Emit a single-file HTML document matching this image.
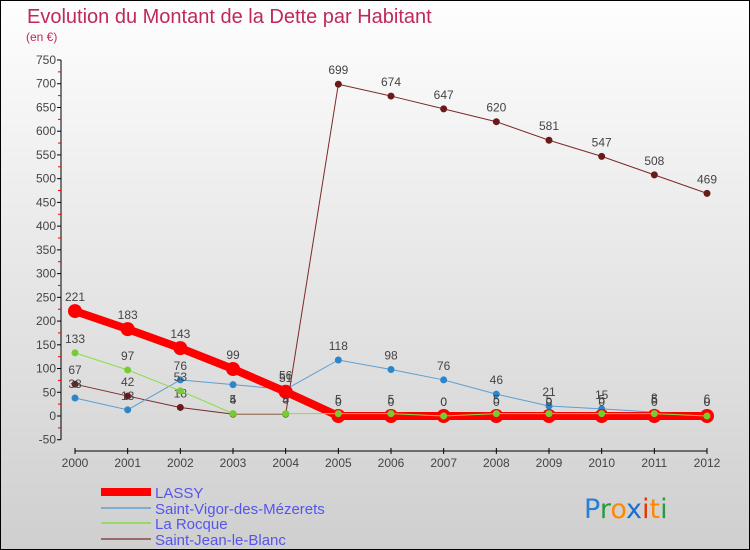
<!DOCTYPE html>
<html><head><meta charset="utf-8"><style>
body{margin:0}
#wrap{width:750px;height:550px;position:relative;box-sizing:border-box;border:1px solid #000;background:linear-gradient(#fefefe,#cfcfcf);font-family:"Liberation Sans",sans-serif;overflow:hidden}
</style></head><body>
<div id="wrap">
<svg id="c" width="748" height="548" style="position:absolute;left:0;top:0"></svg>
</div>
<script>
const years=[2000,2001,2002,2003,2004,2005,2006,2007,2008,2009,2010,2011,2012];
const lassy=[221,183,143,99,51,0,0,0,0,0,0,0,0];
const vigor=[38,13,76,66,56,118,98,76,46,21,15,8,6];
const rocque=[133,97,53,5,5,5,5,0,5,5,5,5,0];
const jean=[67,42,18,4,4,699,674,647,620,581,547,508,469];
const yTicks=[-50,0,50,100,150,200,250,300,350,400,450,500,550,600,650,700,750];
const seriesNames=["LASSY","Saint-Vigor-des-Mézerets","La Rocque","Saint-Jean-le-Blanc"];
const NS="http://www.w3.org/2000/svg",svg=document.getElementById('c');
const X=i=>74+i*(632/12), Y=v=>415-v*(356/750);
function mk(t,a,p){const e=document.createElementNS(NS,t);for(const k in a)e.setAttribute(k,a[k]);(p||svg).appendChild(e);return e;}
let t=mk('text',{x:26,y:22,'font-size':20,fill:'#c0285a'});t.textContent="Evolution du Montant de la Dette par Habitant";

t=mk('text',{x:25,y:40,'font-size':12,fill:'#c0285a'});t.textContent="(en €)";

// y axis
let ax=mk('line',{x1:60,y1:Y(750),x2:60,y2:Y(-50),stroke:'#000'});

yTicks.forEach(v=>{mk('line',{x1:56,x2:60,y1:Y(v),y2:Y(v),stroke:'#000'});
 if(v<750)mk('line',{x1:57,x2:60,y1:Y(v+25),y2:Y(v+25),stroke:'#e00'});
 const l=mk('text',{x:55,y:Y(v)+4,'font-size':12,fill:'#444','text-anchor':'end'});l.textContent=v;
 });
ax=mk('line',{x1:X(0),y1:450,x2:X(12),y2:450,stroke:'#000'});

years.forEach((y,i)=>{mk('line',{x1:X(i),x2:X(i),y1:447,y2:453,stroke:'#000'});
 const l=mk('text',{x:X(i),y:466,'font-size':12,fill:'#444','text-anchor':'middle'});l.textContent=y;
 });
function series(d,col,w,r,name,dot){const g=mk('g',{});
 mk('polyline',{points:d.map((v,i)=>X(i)+','+Y(v)).join(' '),fill:'none',stroke:col,'stroke-width':w},g);
 d.forEach((v,i)=>{const c=mk('circle',{cx:X(i),cy:Y(v),r:r,fill:dot},g);
  const l=mk('text',{x:X(i),y:Y(v)-10,'font-size':12,fill:'#444','text-anchor':'middle'},g);l.textContent=v;});}
series(jean,'#7b2a2a',1,3.5,'series-saint-jean','#6b1a1a');
series(vigor,'#5a9fd4',1,3.5,'series-saint-vigor','#2e86c8');
series(lassy,'#f00',8,7,'series-lassy','#f00');
series(rocque,'#88dd44',1,3.5,'series-la-rocque','#77cc33');
const lc=['#f00','#7aaed4','#99d86a','#9a6a6a'],lw=[8,2,2,2],ly=[491,507,522,538];
seriesNames.forEach((n,i)=>{const g=mk('g',{});
 mk('line',{x1:100,x2:150,y1:ly[i],y2:ly[i],stroke:lc[i],'stroke-width':lw[i]},g);
 const l=mk('text',{x:154,y:ly[i]+6,'font-size':15,fill:'#5555ee'},g);l.textContent=n;});
const logo=mk('text',{x:583,y:517,'font-size':27,'font-family':'DejaVu Sans'});

[['P','#2a7fd0'],['r','#2a9a40'],['o','#ff8800'],['x','#1a70d0'],['i','#ee3300'],['t','#ff8800'],['i','#2a9a40']].forEach(([c,f])=>{const s=mk('tspan',{fill:f},logo);s.textContent=c;});
</script>
</body></html>
